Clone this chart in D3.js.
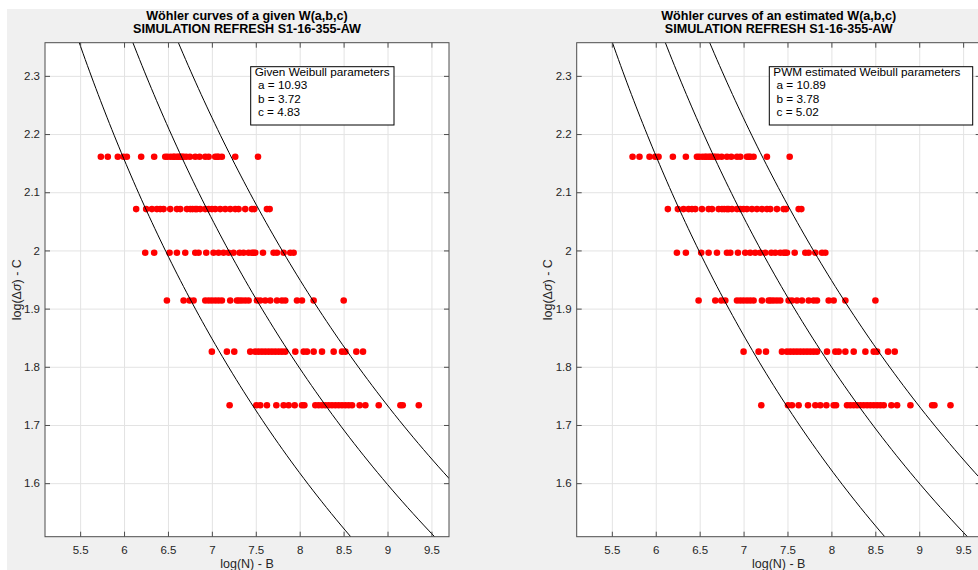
<!DOCTYPE html>
<html>
<head>
<meta charset="utf-8">
<script src="https://cdn.jsdelivr.net/npm/d3@7"></script>
<style>
  body { margin: 0; background: #fff; }
  svg { display: block; font-family: "Liberation Sans", Arial, Helvetica, sans-serif; }
</style>
</head>
<body>
<div id="chart-area"></div>
<script>
// stress levels, log(Δσ) - C
const stressLevels = [2.161, 2.071, 1.996, 1.914, 1.826, 1.734];

// log(N) - B for every run, one array per stress level
const lifeRow1 = [5.736, 5.815, 5.929, 5.994, 6.032, 6.195, 6.343, 6.469, 6.495, 6.53, 6.56, 6.575, 6.602, 6.62,
  6.640, 6.66, 6.678, 6.708, 6.75, 6.811, 6.860, 6.925, 6.963, 7.038, 7.06, 7.076, 7.114, 7.266, 7.525];
const lifeRow2 = [6.138, 6.252, 6.317, 6.374, 6.412, 6.450, 6.526, 6.602, 6.640, 6.716, 6.754, 6.78, 6.811, 6.83,
  6.868, 6.925, 6.963, 7.000, 7.038, 7.095, 7.152, 7.209, 7.266, 7.304, 7.380, 7.456, 7.483, 7.627, 7.658];
const lifeRow3 = [6.241, 6.343, 6.518, 6.602, 6.697, 6.811, 6.849, 6.936, 7.019, 7.076, 7.133, 7.190, 7.247,
  7.316, 7.361, 7.418, 7.456, 7.475, 7.494, 7.582, 7.703, 7.741, 7.817, 7.893, 7.931];
const lifeRow4 = [6.488, 6.678, 6.746, 6.792, 6.925, 6.963, 7.000, 7.039, 7.076, 7.114, 7.209, 7.285, 7.31, 7.342,
  7.380, 7.418, 7.513, 7.551, 7.608, 7.665, 7.741, 7.798, 7.836, 7.969, 8.026, 8.159, 8.501];
const lifeRow5 = [7.000, 7.171, 7.255, 7.437, 7.494, 7.532, 7.570, 7.608, 7.646, 7.684, 7.722, 7.760, 7.798,
  7.836, 7.950, 8.045, 8.083, 8.159, 8.254, 8.387, 8.482, 8.520, 8.645, 8.721];
const lifeRow6 = [7.202, 7.506, 7.551, 7.627, 7.734, 7.817, 7.874, 7.943, 8.026, 8.053, 8.178, 8.216, 8.254,
  8.292, 8.330, 8.368, 8.406, 8.444, 8.482, 8.520, 8.558, 8.596, 8.683, 8.748, 8.900, 9.147, 9.173, 9.356];
const lifeRows = [lifeRow1, lifeRow2, lifeRow3, lifeRow4, lifeRow5, lifeRow6];

// Wöhler curve levels (x * y) for the 5%, 50%, 95% curves
const givenLevels = [12.94, 14.38, 15.60];
const estimatedLevels = [12.98, 14.40, 15.59];

const xTicks = [5.5, 6, 6.5, 7, 7.5, 8, 8.5, 9, 9.5];
const yTicks = [1.6, 1.7, 1.8, 1.9, 2.0, 2.1, 2.2, 2.3];
const xDomain = [5.1, 9.7];
const yDomain = [1.508, 2.357];

const panels = [
  {left: 45, title: ['Wöhler curves of a given W(a,b,c)', 'SIMULATION REFRESH S1-16-355-AW'],
   legend: ['Given Weibull parameters', ' a = 10.93', ' b = 3.72', ' c = 4.83'],
   legendBox: [250.7, 394], levels: givenLevels},
  {left: 576.7, title: ['Wöhler curves of an estimated W(a,b,c)', 'SIMULATION REFRESH S1-16-355-AW'],
   legend: ['PWM estimated Weibull parameters', ' a = 10.89', ' b = 3.78', ' c = 5.02'],
   legendBox: [769.3, 972.7], levels: estimatedLevels}
];

const W = 978, H = 570;
const plotTop = 42.7, plotBottom = 536.7, pw = 404;

const points = [];
lifeRows.forEach((row, i) => row.forEach(v => points.push({x: v, y: stressLevels[i]})));

const svg = d3.select('#chart-area')
  .append('svg')
    .attr('width', W)
    .attr('height', H);

svg.append('rect')
  .attr('x', 7).attr('y', 9)
  .attr('width', W - 7).attr('height', H - 9)
  .attr('fill', '#f0f0f0');

panels.forEach((p, pi) => {
  const x = d3.scaleLinear().domain(xDomain).range([p.left, p.left + pw]);
  const y = d3.scaleLinear().domain(yDomain).range([plotBottom, plotTop]);
  const cx = p.left + pw / 2;

  const clipId = 'clip' + pi;
  svg.append('clipPath').attr('id', clipId)
    .append('rect')
      .attr('x', p.left).attr('y', plotTop)
      .attr('width', pw).attr('height', plotBottom - plotTop);

  const g = svg.append('g');

  g.append('rect')
    .attr('x', p.left).attr('y', plotTop)
    .attr('width', pw).attr('height', plotBottom - plotTop)
    .attr('fill', '#fff');

  // grid
  g.append('g')
    .attr('transform', `translate(0, ${plotTop})`)
    .call(d3.axisBottom(x).tickValues(xTicks).tickSize(plotBottom - plotTop).tickFormat(''))
    .call(a => a.select('.domain').remove())
    .selectAll('line').attr('stroke', '#e3e3e3');
  g.append('g')
    .attr('transform', `translate(${p.left}, 0)`)
    .call(d3.axisRight(y).tickValues(yTicks).tickSize(pw).tickFormat(''))
    .call(a => a.select('.domain').remove())
    .selectAll('line').attr('stroke', '#e3e3e3');

  const plot = g.append('g').attr('clip-path', `url(#${clipId})`);

  plot.selectAll('circle')
    .data(points)
    .enter()
    .append('circle')
      .attr('cx', d => x(d.x))
      .attr('cy', d => y(d.y))
      .attr('r', 3.3)
      .attr('fill', '#ff0000');

  const ys = d3.range(yDomain[0] - 0.01, yDomain[1] + 0.02, 0.01);
  const line = d3.line().x(d => x(d[0])).y(d => y(d[1]));
  p.levels.forEach(k => {
    plot.append('path')
      .datum(ys.map(v => [k / v, v]))
      .attr('d', line)
      .attr('fill', 'none')
      .attr('stroke', '#000')
      .attr('stroke-width', 1);
  });

  // axes, ticks inward on all four sides
  const axisColor = '#262626';
  const boxColor = '#4d4d4d';
  const styleAxis = a => {
    a.select('.domain').remove();
    a.selectAll('line').attr('stroke', boxColor);
    a.selectAll('text').attr('fill', axisColor).attr('font-size', 11.5)
      .attr('font-family', '"Liberation Sans", Arial, sans-serif');
  };
  g.append('g')
    .attr('transform', `translate(0, ${plotBottom})`)
    .call(d3.axisBottom(x).tickValues(xTicks).tickSizeInner(-5).tickSizeOuter(0).tickPadding(9)
      .tickFormat(d3.format('')))
    .call(styleAxis);
  g.append('g')
    .attr('transform', `translate(0, ${plotTop})`)
    .call(d3.axisTop(x).tickValues(xTicks).tickSizeInner(-5).tickSizeOuter(0).tickFormat(''))
    .call(styleAxis);
  g.append('g')
    .attr('transform', `translate(${p.left}, 0)`)
    .call(d3.axisLeft(y).tickValues(yTicks).tickSizeInner(-5).tickSizeOuter(0).tickPadding(5)
      .tickFormat(d3.format('')))
    .call(styleAxis);
  g.append('g')
    .attr('transform', `translate(${p.left + pw}, 0)`)
    .call(d3.axisRight(y).tickValues(yTicks).tickSizeInner(-5).tickSizeOuter(0).tickFormat(''))
    .call(styleAxis);

  g.append('rect')
    .attr('x', p.left).attr('y', plotTop)
    .attr('width', pw).attr('height', plotBottom - plotTop)
    .attr('fill', 'none')
    .attr('stroke', boxColor)
    .attr('stroke-width', 1);

  // legend box
  const lb = p.legendBox;
  g.append('rect')
    .attr('x', lb[0]).attr('y', 66.7)
    .attr('width', lb[1] - lb[0]).attr('height', 58.3)
    .attr('fill', '#fff')
    .attr('stroke', '#000')
    .attr('stroke-width', 1);
  g.selectAll('.legend-text')
    .data(p.legend)
    .enter()
    .append('text')
      .attr('class', 'legend-text')
      .attr('x', lb[0] + 4)
      .attr('y', (d, i) => 75.5 + i * 13.5)
      .attr('font-size', 11.75)
      .attr('fill', '#000')
      .attr('xml:space', 'preserve')
      .style('white-space', 'pre')
      .text(d => d);

  // title
  g.selectAll('.title')
    .data(p.title)
    .enter()
    .append('text')
      .attr('class', 'title')
      .attr('x', cx)
      .attr('y', (d, i) => 20 + i * 13)
      .attr('text-anchor', 'middle')
      .attr('font-size', 12.6)
      .attr('font-weight', 'bold')
      .attr('fill', '#000')
      .text(d => d);

  // X label
  g.append('text')
    .attr('x', cx)
    .attr('y', 568)
    .attr('text-anchor', 'middle')
    .attr('font-size', 12.5)
    .attr('fill', axisColor)
    .text('log(N) - B');

  // Y label
  const yl = g.append('text')
    .attr('transform', `translate(${p.left - 24.5}, ${(plotTop + plotBottom) / 2}) rotate(-90)`)
    .attr('text-anchor', 'middle')
    .attr('font-size', 12.5)
    .attr('fill', axisColor);
  yl.append('tspan').text('log(Δ');
  yl.append('tspan').attr('font-style', 'italic').text('σ');
  yl.append('tspan').text(') - C');
});
</script>
</body>
</html>
